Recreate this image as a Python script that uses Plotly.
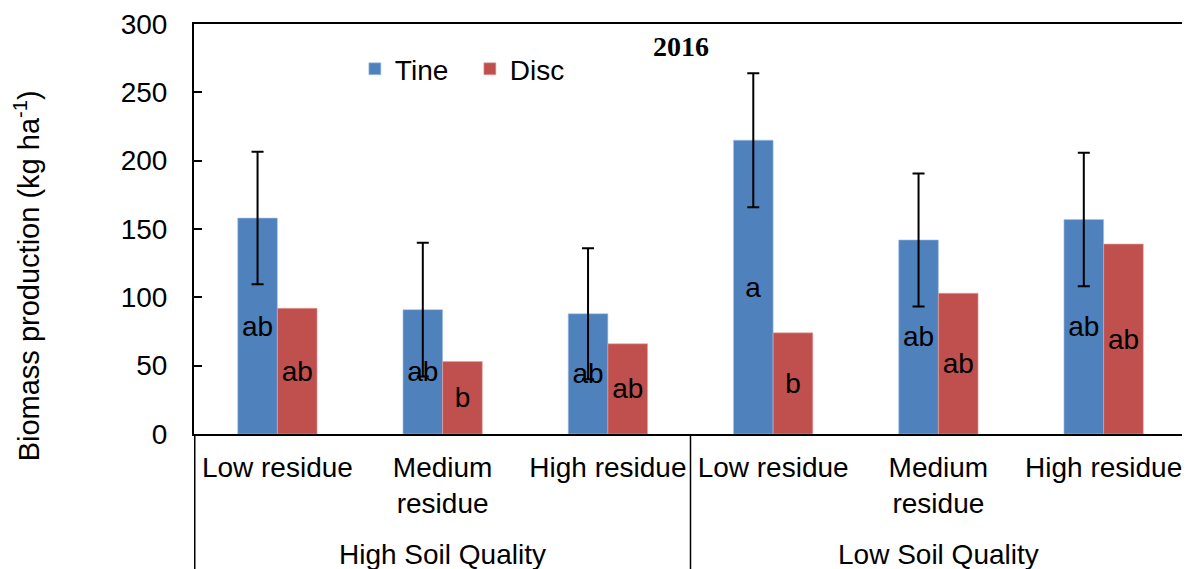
import plotly.graph_objects as go

soil = ["High Soil Quality", "Low Soil Quality"]
residue = ["Low residue", "Medium<br>residue", "High residue"]

tine = [158, 91, 88, 215, 142, 157]
tine_err = [48.5, 49, 48, 49, 48.7, 48.8]
tine_lbl = ["ab", "ab", "ab", "a", "ab", "ab"]

disc = [92, 53, 66, 74, 103, 139]
disc_lbl = ["ab", "b", "ab", "b", "ab", "ab"]

# unique category keys (soil | residue), shown with residue text only
cats = [f"{s}|{r}" for s in soil for r in residue]
tick_text = [r for s in soil for r in residue]

FONT = "Liberation Sans, Arial, sans-serif"
FS = 28

fig = go.Figure()
fig.add_trace(go.Bar(
    name="Tine", x=cats, y=tine,
    marker=dict(color="#4F81BD", line=dict(color="#A9C4E6", width=0.6)),
    error_y=dict(type="data", array=tine_err, visible=True, color="black", thickness=2, width=6),
    text=tine_lbl, textposition="inside", insidetextanchor="middle",
    textfont=dict(color="black", size=FS, family=FONT), textangle=0,
))
fig.add_trace(go.Bar(
    name="Disc", x=cats, y=disc,
    marker=dict(color="#C0504D", line=dict(color="#E3A3A1", width=0.6)),
    text=disc_lbl, textposition="inside", insidetextanchor="middle",
    textfont=dict(color="black", size=FS, family=FONT), textangle=0,
))

# page body has an 8px default margin, so the figure is 8px smaller
fig.update_layout(
    width=1182, height=561,
    margin=dict(l=186, r=3, t=16, b=135, autoexpand=False),
    paper_bgcolor="white", plot_bgcolor="white",
    font=dict(family=FONT, size=FS, color="black"),
    barmode="group", bargap=0.52, bargroupgap=0,
    showlegend=True,
    legend=dict(orientation="h", x=0.162, y=0.89, xanchor="left", yanchor="middle",
                font=dict(size=FS), bgcolor="rgba(0,0,0,0)", traceorder="normal",
                entrywidth=70, entrywidthmode="pixels"),
)
fig.update_xaxes(
    type="category", categoryorder="array", categoryarray=cats,
    tickvals=cats, ticktext=tick_text, tickangle=0, automargin=False,
    showline=True, linecolor="black", linewidth=2, mirror=True,
    showgrid=False, ticks="", tickfont=dict(size=FS), ticklabelstandoff=7,
)
fig.update_yaxes(
    range=[0, 300], dtick=50, showline=True, linecolor="black", linewidth=2, mirror=True,
    showgrid=False, ticks="inside", ticklen=8, tickwidth=1.5, tickcolor="black",
    tickfont=dict(size=FS), ticklabelstandoff=19, zeroline=False, automargin=False,
)

# group dividers below the axis
n_res = len(residue)
for k in range(len(soil) + 1):
    fig.add_shape(type="line", xref="x", yref="paper", x0=k * n_res - 0.5, x1=k * n_res - 0.5,
                  y0=0, y1=-0.34, line=dict(color="black", width=1.5))
# outer group labels
for k, s in enumerate(soil):
    fig.add_annotation(text=s, x=cats[k * n_res + 1], y=-0.295, xref="x", yref="paper",
                       xanchor="center", yanchor="middle", showarrow=False, font=dict(size=FS))

fig.add_annotation(text="<b>2016</b>", x=0.4904, y=0.944, xref="paper", yref="paper",
                   xanchor="center", yanchor="middle", showarrow=False,
                   font=dict(family="Liberation Serif, Times New Roman, serif", size=28))
fig.add_annotation(text="Biomass production (kg ha<sup>-1</sup>)", textangle=-90,
                   x=-0.168, y=0.385, xref="paper", yref="paper", showarrow=False,
                   xanchor="center", yanchor="middle", font=dict(size=29))
fig.write_html("out.html")
